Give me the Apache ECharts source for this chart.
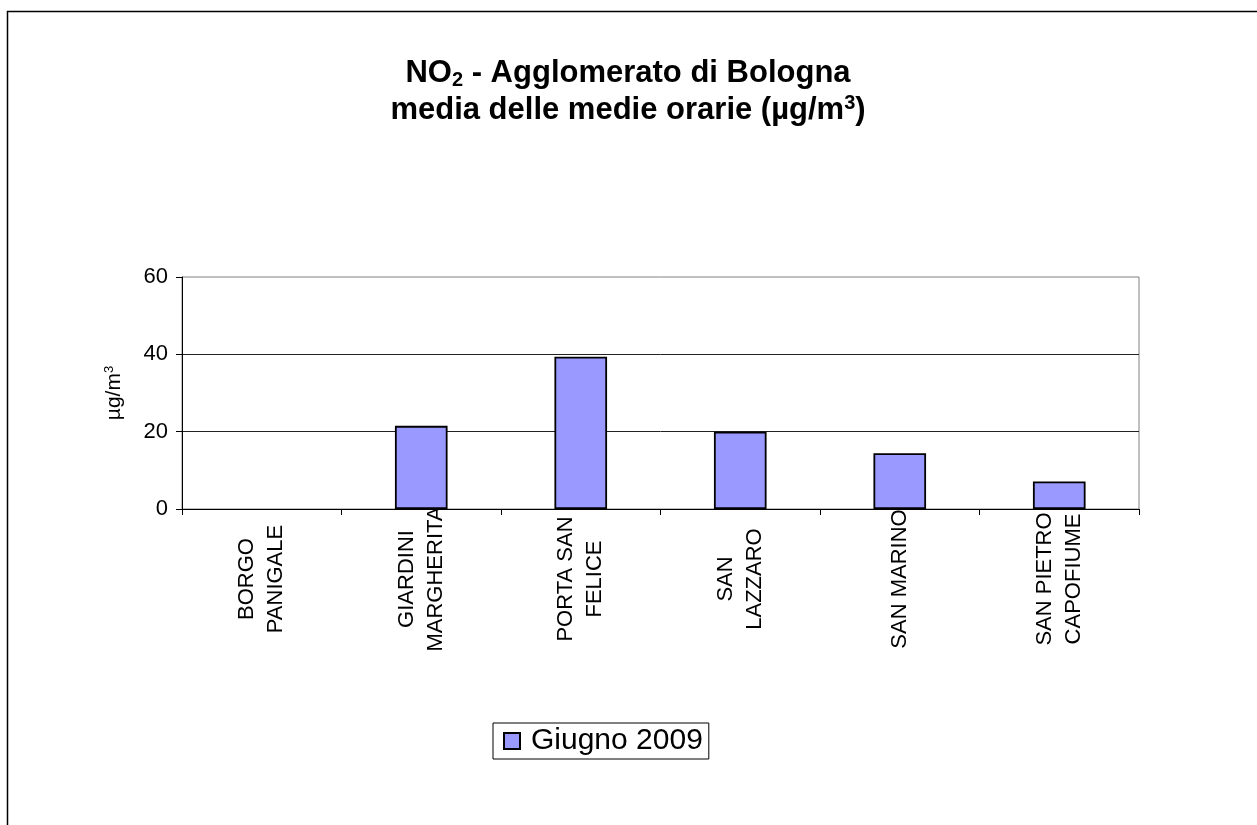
<!DOCTYPE html>
<html>
<head>
<meta charset="utf-8">
<script src="https://cdn.jsdelivr.net/npm/echarts@6/dist/echarts.min.js"></script>
<style>
  html, body { margin: 0; padding: 0; background: #fff; }
  #chart { width: 1257px; height: 825px; }
</style>
</head>
<body>
<div id="chart"></div>
<script>
const stations = [
  'BORGO\nPANIGALE',
  'GIARDINI\nMARGHERITA',
  'PORTA SAN\nFELICE',
  'SAN\nLAZZARO',
  'SAN MARINO',
  'SAN PIETRO\nCAPOFIUME'
]
// Borgo Panigale has no bar in the picture
const giugno2009 = [null, 21.5, 39.4, 20.0, 14.4, 7.1]
const yTicks = [0, 20, 40, 60]
const seriesName = 'Giugno 2009'

const font = 'Liberation Sans, Arial, sans-serif'
const chart = echarts.init(document.getElementById('chart'))

chart.setOption({
  backgroundColor: '#fff',
  textStyle: { fontFamily: font, color: '#000' },
  title: {
    left: 623,
    top: 50,
    textAlign: 'center',
    text: '{b|NO}{sub|2}{b| - Agglomerato di Bologna}\n{b|media delle medie orarie (}{mu|µ}{b|g/m}{sup|3}{b|)}',
    textStyle: {
      rich: {
        b: { fontFamily: font, fontWeight: 'bold', fontSize: 31, color: '#000', lineHeight: 37 },
        mu: { fontFamily: font, fontWeight: 'bold', fontSize: 31, color: '#000', lineHeight: 37 },
        sub: { fontFamily: font, fontWeight: 'bold', fontSize: 20, color: '#000', padding: [13, 0, 0, 0], lineHeight: 37 },
        sup: { fontFamily: font, fontWeight: 'bold', fontSize: 20, color: '#000', padding: [0, 0, 15, 0], lineHeight: 37 }
      }
    }
  },
  graphic: [{
    type: 'rect',
    shape: { x: 7.5, y: 11.5, width: 1400, height: 1000 },
    style: { fill: 'none', stroke: '#000', lineWidth: 1.5 },
    silent: true
  }],
  legend: {
    left: 493,
    top: 723,
    data: [seriesName],
    icon: 'rect',
    itemWidth: 16,
    itemHeight: 16,
    itemGap: 10,
    padding: [3, 6, 3, 10],
    borderColor: '#000',
    borderWidth: 1,
    textStyle: { fontSize: 30, color: '#000', fontFamily: font, padding: [0, 0, 0, 6] }
  },
  grid: {
    left: 182,
    right: 118,
    top: 277,
    bottom: 316,
    show: true,
    borderColor: '#808080',
    borderWidth: 1,
    backgroundColor: '#fff'
  },
  xAxis: {
    type: 'category',
    data: stations,
    axisLine: { lineStyle: { color: '#000', width: 1 } },
    axisTick: { show: true, length: 6, lineStyle: { color: '#000' } },
    axisLabel: {
      rotate: 90,
      align: 'center',
      verticalAlign: 'middle',
      margin: 70,
      fontSize: 22,
      lineHeight: 29,
      color: '#000',
      fontFamily: font,
      interval: 0
    }
  },
  yAxis: {
    type: 'value',
    min: yTicks[0],
    max: yTicks[yTicks.length - 1],
    interval: 20,
    name: '{a|µg/m}{s|3}',
    nameLocation: 'middle',
    nameGap: 56,
    nameTextStyle: {
      rich: {
        a: { fontSize: 21, color: '#000', fontFamily: font },
        s: { fontSize: 13, color: '#000', fontFamily: font, padding: [0, 0, 10, 0] }
      }
    },
    axisLine: { show: true, lineStyle: { color: '#000', width: 1 } },
    axisTick: { show: true, length: 6, lineStyle: { color: '#000' } },
    axisLabel: { fontSize: 22, color: '#000', margin: 14, fontFamily: font },
    splitLine: { show: true, showMaxLine: false, lineStyle: { color: '#222', width: 1 } }
  },
  series: [{
    name: seriesName,
    type: 'bar',
    data: giugno2009,
    barWidth: '33%',
    itemStyle: { color: '#9999FF', borderColor: '#000', borderWidth: 1.8 }
  }]
})
</script>
</body>
</html>
